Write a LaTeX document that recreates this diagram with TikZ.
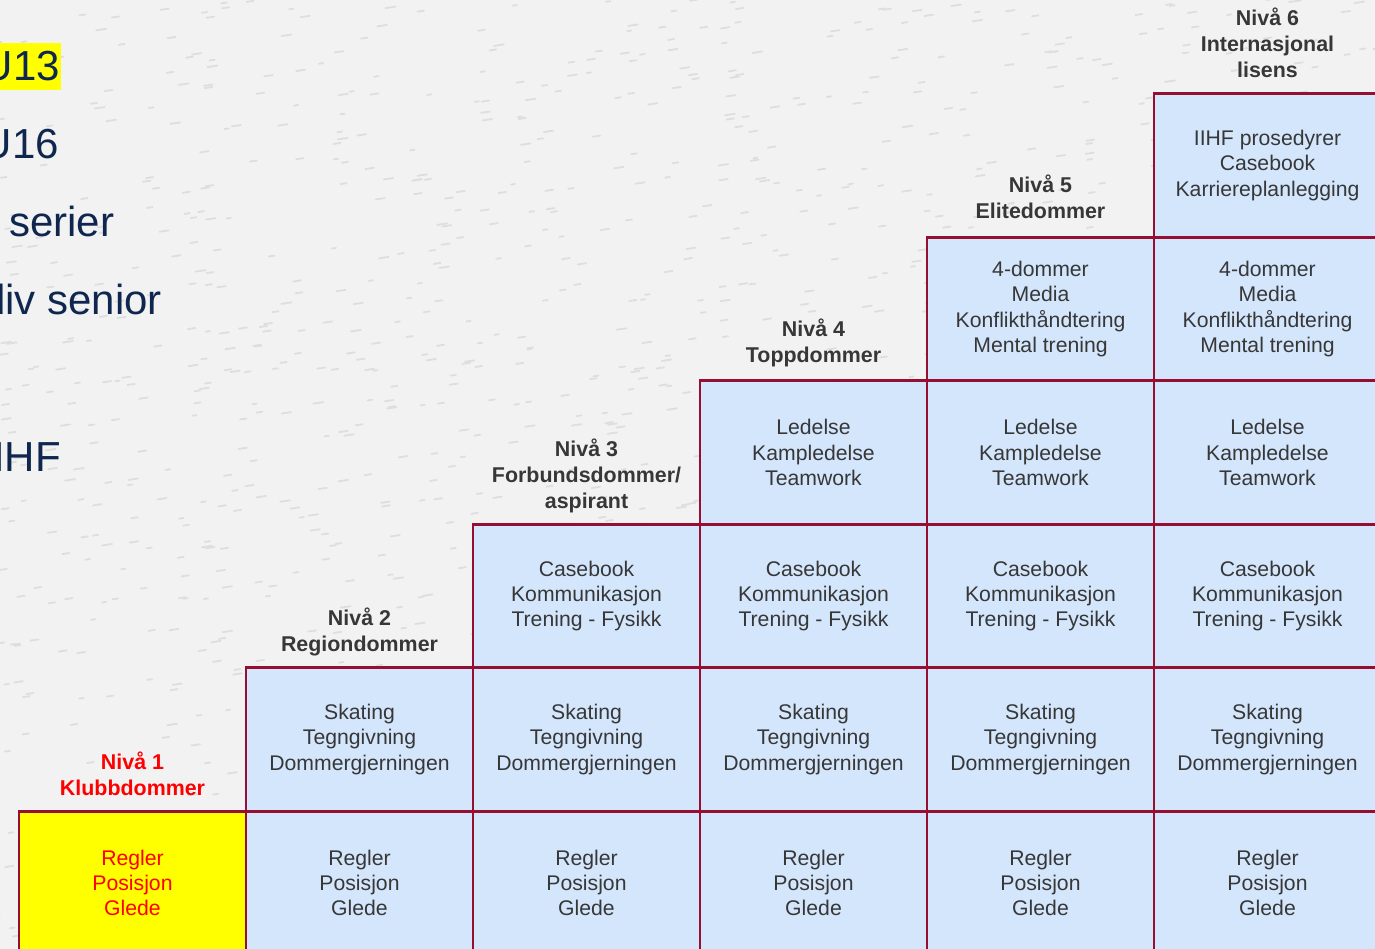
\documentclass[tikz,border=0pt]{standalone}
\usepackage{fontspec}
\setmainfont{Liberation Sans}
\definecolor{bg}{RGB}{242,242,242}
\definecolor{speck}{RGB}{222,222,222}
\definecolor{cellblue}{RGB}{212,230,252}
\definecolor{cellborder}{RGB}{150,15,50}
\definecolor{celltext}{RGB}{55,55,55}
\definecolor{navy}{RGB}{15,38,78}
\definecolor{hl}{RGB}{255,255,0}
\begin{document}
\begin{tikzpicture}[x=1pt,y=-1pt,
  cellbox/.style={draw=cellborder,line width=2.6pt,fill=cellblue,minimum width=227pt,minimum height=143.5pt,
    align=center,text=celltext,inner sep=0pt,font=\fontsize{21.2}{25.3}\selectfont},
  firstcell/.style={cellbox,fill=hl,text=red},
  hdr/.style={anchor=south,align=center,inner sep=0pt,text=celltext,font=\fontsize{21.4}{26}\selectfont\bfseries},
  lefttxt/.style={inner sep=0pt,text=navy,font=\fontsize{42}{50}\selectfont}]
\useasboundingbox (0,0) rectangle (1375,949);
\clip (0,0) rectangle (1375,949);
\fill[bg] (0,0) rectangle (1375,949);
% fabric texture
\pgfmathsetseed{7}
\foreach \i in {1,...,1400}{
  \pgfmathsetmacro{\px}{rnd*1385-5}
  \pgfmathsetmacro{\py}{rnd*959-5}
  \pgfmathsetmacro{\pl}{4+rnd*6}
  \draw[speck,line width=1.8pt,line cap=round] (\px,\py) -- ++(\pl,-0.15*\pl);
}
% left list
\fill[hl] (0,43) rectangle (61,90);
\node[lefttxt,anchor=base east] (u13) at (60,81) {U13};
\node[lefttxt,anchor=base east] (u16) at (59,159) {U16};
\node[lefttxt,anchor=base west] (ser) at (9,237) {serier};
\node[lefttxt,anchor=base east] (sen) at (162,315) {div senior};
\node[lefttxt,anchor=base east] (ihf) at (61,471) {IHF};
% grid cells
\newcommand{\rowA}{Regler\\Posisjon\\Glede}
\newcommand{\rowB}{Skating\\Tegngivning\\Dommergjerningen}
\newcommand{\rowC}{Casebook\\Kommunikasjon\\Trening - Fysikk}
\newcommand{\rowD}{Ledelse\\Kampledelse\\Teamwork}
\newcommand{\rowE}{4-dommer\\Media\\Konflikthåndtering\\Mental trening}
\newcommand{\rowF}{IIHF prosedyrer\\Casebook\\Karriereplanlegging}
% column 1
\node[firstcell] (c11) at (132.5,883) {\rowA};
% column 2
\node[cellbox] (c21) at (359.5,883) {\rowA};
\node[cellbox] (c22) at (359.5,739.5) {\rowB};
% column 3
\node[cellbox] (c31) at (586.5,883) {\rowA};
\node[cellbox] (c32) at (586.5,739.5) {\rowB};
\node[cellbox] (c33) at (586.5,596) {\rowC};
% column 4
\node[cellbox] (c41) at (813.5,883) {\rowA};
\node[cellbox] (c42) at (813.5,739.5) {\rowB};
\node[cellbox] (c43) at (813.5,596) {\rowC};
\node[cellbox] (c44) at (813.5,452.5) {\rowD};
% column 5
\node[cellbox] (c51) at (1040.5,883) {\rowA};
\node[cellbox] (c52) at (1040.5,739.5) {\rowB};
\node[cellbox] (c53) at (1040.5,596) {\rowC};
\node[cellbox] (c54) at (1040.5,452.5) {\rowD};
\node[cellbox] (c55) at (1040.5,309) {\rowE};
% column 6
\node[cellbox] (c61) at (1267.5,883) {\rowA};
\node[cellbox] (c62) at (1267.5,739.5) {\rowB};
\node[cellbox] (c63) at (1267.5,596) {\rowC};
\node[cellbox] (c64) at (1267.5,452.5) {\rowD};
\node[cellbox] (c65) at (1267.5,309) {\rowE};
\node[cellbox] (c66) at (1267.5,165.5) {\rowF};
% headers
\node[hdr,text=red] (h1) at ([yshift=6.5pt]c11.north) {Nivå 1\\Klubbdommer\strut};
\node[hdr] (h2) at ([yshift=6.5pt]c22.north) {Nivå 2\\Regiondommer\strut};
\node[hdr] (h3) at ([yshift=6.5pt]c33.north) {Nivå 3\\Forbundsdommer/\\aspirant\strut};
\node[hdr] (h4) at ([yshift=9pt]c44.north) {Nivå 4\\Toppdommer\strut};
\node[hdr] (h5) at ([yshift=9.5pt]c55.north) {Nivå 5\\Elitedommer\strut};
\node[hdr] (h6) at ([yshift=6.5pt]c66.north) {Nivå 6\\Internasjonal\\lisens\strut};
\end{tikzpicture}
\end{document}
